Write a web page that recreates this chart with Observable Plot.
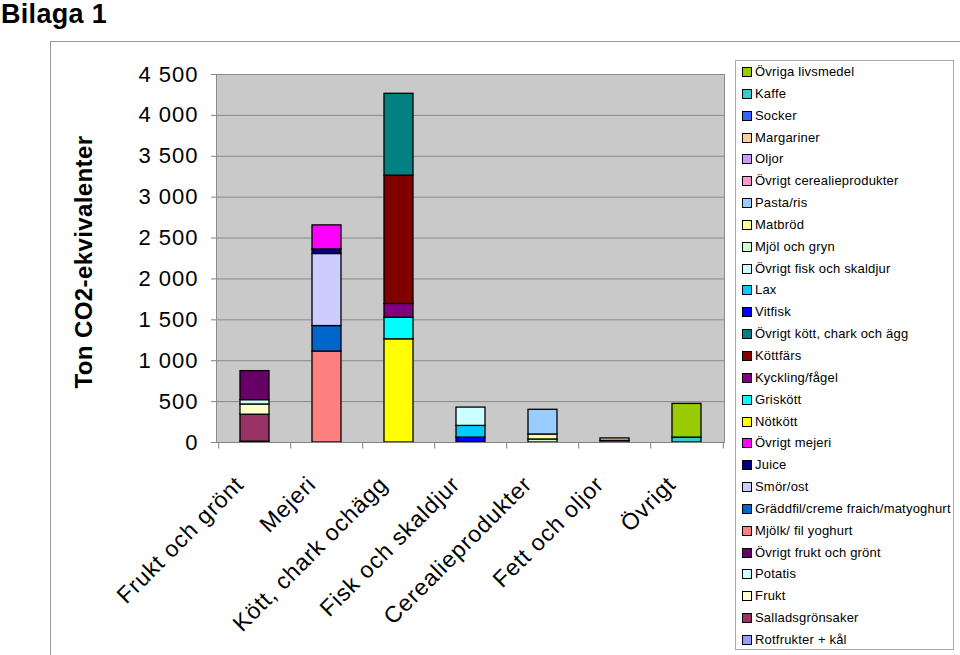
<!DOCTYPE html>
<html>
<head>
<meta charset="utf-8">
<script src="https://cdn.jsdelivr.net/npm/d3@7"></script>
<script src="https://cdn.jsdelivr.net/npm/@observablehq/plot@0.6"></script>
<style>
  html, body { margin: 0; padding: 0; background: #fff; }
  body { font-family: Arial, "Liberation Sans", sans-serif; }
  #wrap { position: relative; width: 960px; height: 655px; overflow: hidden; }
  #title { position: absolute; left: 1px; top: 1px; font-size: 27px; line-height: 27px; font-weight: bold; letter-spacing: 0.3px; }
  #outer { position: absolute; left: 50px; top: 41px; width: 920px; height: 640px; border-left: 1px solid #9a9a9a; border-top: 1px solid #9a9a9a; }
  #ylabel { position: absolute; left: 84px; top: 262px; transform: translate(-50%, -50%) rotate(-90deg); font-size: 24px; font-weight: bold; white-space: nowrap; letter-spacing: 0.4px; }
  #chart { position: absolute; left: 0; top: 0; }
  #chart [aria-label="y-axis tick label"] { letter-spacing: 1px; }
  #chart [aria-label="x-axis tick label"] { letter-spacing: 0.9px; }
  #legend { position: absolute; left: 735px; top: 60px; width: 219px; height: 590px; border: 1px solid #a8a8a8; box-sizing: border-box; background: #fff; }
  .row { position: relative; height: 21.85px; font-size: 13px; line-height: 21.85px; }
  .sw { position: absolute; left: 6px; top: 6px; width: 8px; height: 8px; border: 1px solid #000; }
  .lb { position: absolute; left: 19px; top: 0; white-space: nowrap; color: #000; letter-spacing: 0.2px; }
</style>
</head>
<body>
<div id="wrap">
  <div id="outer"></div>
  <div id="chart"></div>
  <div id="title">Bilaga 1</div>
  <div id="ylabel">Ton CO2-ekvivalenter</div>
  <div id="legend"></div>
</div>
<script>
// Categories on the x axis
const categories = ["Frukt och grönt", "Mejeri", "Kött, chark ochägg", "Fisk och skaldjur", "Cerealieprodukter", "Fett och oljor", "Övrigt"];

// Series in stacking order (bottom to top)
const series = [
  "Rotfrukter + kål", "Salladsgrönsaker", "Frukt", "Potatis", "Övrigt frukt och grönt",
  "Mjölk/ fil yoghurt", "Gräddfil/creme fraich/matyoghurt", "Smör/ost", "Juice", "Övrigt mejeri",
  "Nötkött", "Griskött", "Kyckling/fågel", "Köttfärs", "Övrigt kött, chark och ägg",
  "Vitfisk", "Lax", "Övrigt fisk och skaldjur",
  "Mjöl och gryn", "Matbröd", "Pasta/ris", "Övrigt cerealieprodukter",
  "Oljor", "Margariner",
  "Socker", "Kaffe", "Övriga livsmedel"
];

// Category each series belongs to
const seriesCategory = [
  "Frukt och grönt", "Frukt och grönt", "Frukt och grönt", "Frukt och grönt", "Frukt och grönt",
  "Mejeri", "Mejeri", "Mejeri", "Mejeri", "Mejeri",
  "Kött, chark ochägg", "Kött, chark ochägg", "Kött, chark ochägg", "Kött, chark ochägg", "Kött, chark ochägg",
  "Fisk och skaldjur", "Fisk och skaldjur", "Fisk och skaldjur",
  "Cerealieprodukter", "Cerealieprodukter", "Cerealieprodukter", "Cerealieprodukter",
  "Fett och oljor", "Fett och oljor",
  "Övrigt", "Övrigt", "Övrigt"
];

// Values (ton CO2-ekvivalenter)
const seriesValue = [
  10, 330, 125, 53, 355,
  1113, 311, 881, 56, 294,
  1262, 265, 167, 1570, 1000,
  60, 143, 224,
  37, 61, 302, 0,
  20, 30,
  0, 60, 412
];

// Colours
const seriesColor = [
  "#9999FF", "#993366", "#FFFFCC", "#CCFFFF", "#660066",
  "#FF8080", "#0066CC", "#CCCCFF", "#000080", "#FF00FF",
  "#FFFF00", "#00FFFF", "#800080", "#800000", "#008080",
  "#0000FF", "#00CCFF", "#CCFFFF",
  "#CCFFCC", "#FFFF99", "#99CCFF", "#FF99CC",
  "#CC99FF", "#FFCC99",
  "#3366FF", "#33CCCC", "#99CC00"
];

// Y ticks
const yTicks = [0, 500, 1000, 1500, 2000, 2500, 3000, 3500, 4000, 4500];

const data = series.map((s, i) => ({series: s, cat: seriesCategory[i], value: seriesValue[i]}))
  .filter(d => d.value > 0);

const fmt = d => d3.format(",")(d).replace(/,/g, " ");
const W = 960, H = 655, ML = 216, MR = 236, MT = 74, MB = 213;
const halfStep = (W - ML - MR) / categories.length / 2;

const chart = Plot.plot({
  width: W, height: H,
  marginLeft: ML, marginRight: MR, marginTop: MT, marginBottom: MB,
  style: {fontFamily: "Arial, 'Liberation Sans', sans-serif", background: "transparent", color: "#000", overflow: "visible"},
  x: {domain: categories, paddingInner: 0.6, paddingOuter: 0.3, label: null},
  y: {domain: [0, 4500], label: null},
  color: {domain: series, range: seriesColor},
  marks: [
    Plot.frame({fill: "#C9C9C9", stroke: "#8c8c8c"}),
    Plot.gridY(yTicks, {stroke: "#8a8a8a", strokeOpacity: 1, strokeWidth: 1}),
    Plot.barY(data, {x: "cat", y: "value", fill: "series", stroke: "#000", strokeWidth: 1.3}),
    Plot.ruleY([0], {stroke: "#808080"}),
    Plot.ruleX(categories, {x: d => d, y1: 0, y2: -80, dx: -halfStep, stroke: "#808080"}),
    Plot.ruleX([categories[categories.length - 1]], {x: d => d, y1: 0, y2: -80, dx: halfStep, stroke: "#808080"}),
    Plot.axisY(yTicks, {tickSize: 5, tickPadding: 13, fontSize: 22, tickFormat: fmt, stroke: "#808080", fill: "#000", label: null}),
    Plot.axisX({tickSize: 0, tickPadding: 16, tickRotate: -45, fontSize: 23, dx: -15, dy: 22, fill: "#000", label: null})
  ]
});
document.getElementById("chart").appendChild(chart);

// Legend (reverse of stacking order)
const legend = document.getElementById("legend");
for (let i = series.length - 1; i >= 0; i--) {
  const row = document.createElement("div");
  row.className = "row";
  const sw = document.createElement("div");
  sw.className = "sw";
  sw.style.background = seriesColor[i];
  const lb = document.createElement("div");
  lb.className = "lb";
  lb.textContent = series[i];
  row.appendChild(sw);
  row.appendChild(lb);
  legend.appendChild(row);
}
</script>
</body>
</html>
